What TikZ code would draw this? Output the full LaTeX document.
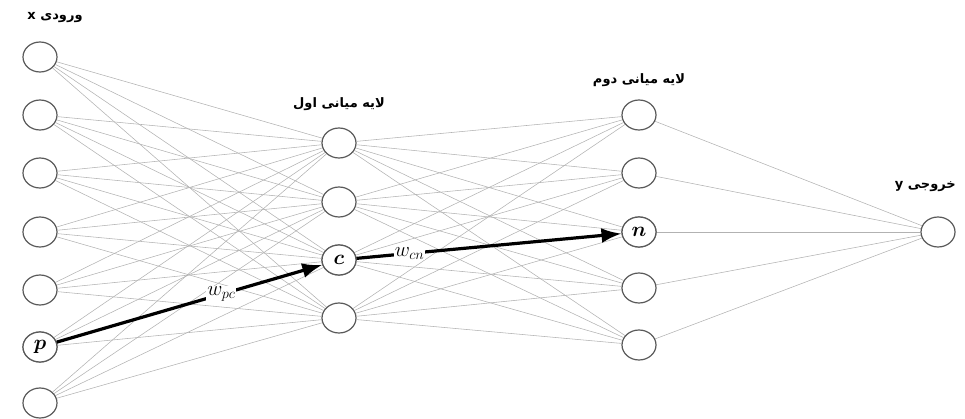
\documentclass[tikz,border=0pt]{standalone}
\usepackage{amsmath}
\usepackage{fontspec}
\usetikzlibrary{shapes.geometric,arrows.meta,backgrounds}
\newfontfamily\arabicfont[Script=Arabic]{DejaVu Sans Bold}
\newfontfamily\labelfont{DejaVu Sans Bold}
\TeXXeTstate=1
\begin{document}
\begin{tikzpicture}[x=1pt,y=-1pt,
  neuron/.style={ellipse,draw=black!65,line width=1.2pt,fill=white,minimum width=34pt,minimum height=30pt,inner sep=0pt,font=\fontsize{20}{20}\selectfont},
  conn/.style={draw=black!30,line width=0.55pt},
  bigarrow/.style={draw=black,line width=3.2pt,-{Latex[length=20pt,width=15pt]}},
  wlabel/.style={fill=white,inner sep=1pt,font=\fontsize{20}{20}\selectfont},
  layerlabel/.style={font=\fontsize{13}{15}\selectfont,inner sep=0pt}]
\useasboundingbox (0,0) rectangle (965,419);
% input layer
\foreach \i/\y in {1/57,2/115,3/173,4/232,5/290,6/347,7/403}{
  \node[neuron] (i\i) at (40,\y) {};
}
\node[neuron] at (i6) {$\boldsymbol{p}$};
% hidden 1
\foreach \i/\y in {1/143,2/202,3/260,4/318}{
  \node[neuron] (h\i) at (339,\y) {};
}
\node[neuron] at (h3) {$\boldsymbol{c}$};
% hidden 2
\foreach \i/\y in {1/115,2/173,3/232,4/288,5/345}{
  \node[neuron] (g\i) at (639,\y) {};
}
\node[neuron] at (g3) {$\boldsymbol{n}$};
% output
\node[neuron] (o) at (938,232) {};
\begin{scope}[on background layer]
\foreach \a in {1,...,7}{\foreach \b in {1,...,4}{\draw[conn] (i\a) -- (h\b);}}
\foreach \a in {1,...,4}{\foreach \b in {1,...,5}{\draw[conn] (h\a) -- (g\b);}}
\foreach \a in {1,...,5}{\draw[conn] (g\a) -- (o);}
\end{scope}
\draw[bigarrow] (i6) -- node[wlabel,pos=0.62]{$w_{pc}$} (h3);
\draw[bigarrow] (h3) -- node[wlabel,pos=0.2]{$w_{cn}$} (g3);
% labels
\node[layerlabel] (lx) at (55,18) {\labelfont x {\arabicfont\beginR ورودی\endR}};
\node[layerlabel] (l1) at (339,104) {\arabicfont\beginR لایه میانی اول\endR};
\node[layerlabel] (l2) at (639,80) {\arabicfont\beginR لایه میانی دوم\endR};
\node[layerlabel,anchor=east] (ly) at (956,187) {\labelfont y {\arabicfont\beginR خروجی\endR}};
\end{tikzpicture}
\end{document}
